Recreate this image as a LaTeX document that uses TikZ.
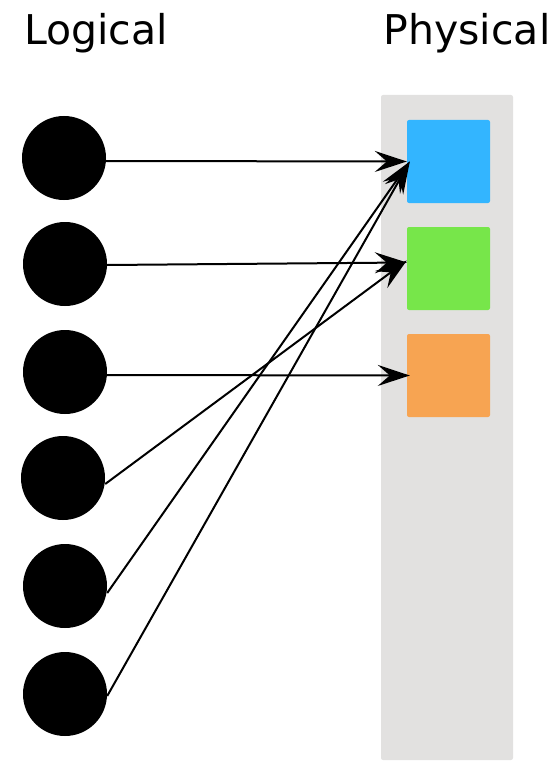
\documentclass[tikz,border=0pt]{standalone}
\usepackage{fontspec}
\setmainfont{DejaVu Sans}
\usetikzlibrary{arrows.meta}

\begin{document}
\begin{tikzpicture}[x=1pt,y=-1pt,
					title/.style={font=\fontsize{41}{48}\selectfont, anchor=base},
					ball/.style={circle, fill=black, minimum size=84pt, inner sep=0pt},
					slot/.style={minimum size=83pt, inner sep=0pt, rounded corners=2pt},
					map/.style={line width=2pt, -{Stealth[length=32pt, width=21pt, inset=12pt]}}]
\useasboundingbox (0,0) rectangle (559,762);
\node[title] (logical) at (96,45) {Logical};
\node[title] (physical) at (467,45) {Physical};
\fill[rounded corners=2pt, fill={rgb,255:red,226;green,225;blue,224}] (381,95) rectangle (513,760);
\node[slot, fill={rgb,255:red,51;green,181;blue,255}] (blue) at (448.5,161.5) {};
\node[slot, fill={rgb,255:red,119;green,230;blue,74}] (green) at (448.5,268.5) {};
\node[slot, fill={rgb,255:red,247;green,164;blue,82}] (orange) at (448.5,375.5) {};
\foreach \name/\x/\y in {l1/64/158, l2/65/264, l3/65/372, l4/63/478, l5/65/586, l6/65/694}
	\node[ball] (\name) at (\x,\y) {};
\draw[map] ([yshift=-3pt]l1.east) -- (blue.west);
\draw[map] ([yshift=-1pt]l2.east) -- ([yshift=6pt]green.west);
\draw[map] ([yshift=-3pt]l3.east) -- ([xshift=3pt]orange.west);
\draw[map] ([yshift=-6pt]l4.east) -- ([yshift=8pt]green.west);
\draw[map] ([yshift=-7pt]l5.east) -- ([xshift=3pt]blue.west);
\draw[map] ([yshift=-2pt]l6.east) -- ([xshift=3pt]blue.west);
\end{tikzpicture}
\end{document}
